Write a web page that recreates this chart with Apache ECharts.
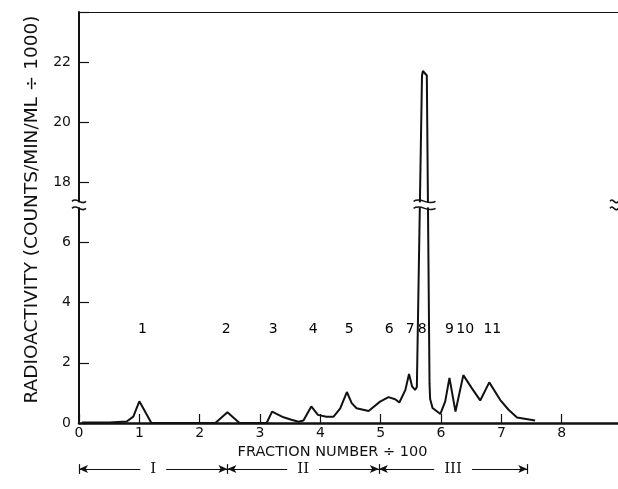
<!DOCTYPE html>
<html>
<head>
<meta charset="utf-8">
<script src="https://cdn.jsdelivr.net/npm/echarts@6/dist/echarts.min.js"></script>
<style>
html,body{margin:0;padding:0;background:#fff;}
#chart{width:618px;height:489px;}
</style>
</head>
<body>
<div id="chart"></div>
<script>
// ---- data (real units: counts/min/ml ÷ 1000 vs fraction number ÷ 100) ----
const fractionX = [0.05,0.5,0.79,0.9,1.0,1.2,1.6,2.0,2.26,2.46,2.66,3.0,3.11,3.2,3.39,3.52,3.64,3.72,3.85,3.96,4.1,4.22,4.33,4.44,4.52,4.6,4.8,4.99,5.13,5.24,5.31,5.41,5.47,5.52,5.57,5.6,5.685,5.7,5.73,5.765,5.81,5.82,5.86,5.99,6.07,6.14,6.24,6.37,6.51,6.65,6.8,6.98,7.12,7.26,7.56];
const activity  = [0.02,0.02,0.05,0.21,0.72,0.0,0.0,0.0,0.0,0.36,0.0,0.0,0.0,0.38,0.19,0.11,0.04,0.08,0.55,0.27,0.21,0.21,0.49,1.03,0.66,0.49,0.4,0.71,0.86,0.79,0.68,1.1,1.63,1.22,1.1,1.2,21.55,21.7,21.7,21.55,1.3,0.8,0.5,0.3,0.72,1.5,0.38,1.59,1.16,0.75,1.35,0.77,0.44,0.18,0.08];
const peakX     = [1.05,2.44,3.22,3.88,4.48,5.14,5.49,5.69,6.14,6.40,6.85];
const peakNames = ['1','2','3','4','5','6','7','8','9','10','11'];
const peakLabelY = 3.1;
const regionNames = ['I','II','III'];
const regionBounds = [0, 2.46, 4.97, 7.43];
const xTicks = [0,1,2,3,4,5,6,7,8];
const yTicksLow = [0,2,4,6];
const yTicksHigh = [18,20,22];

// ---- broken axis mapping ----
const BREAK_LOW = 7.1;    // top of the lower segment
const OFFSET = 10;        // values above the break are shifted down by this
function disp(v){ return v > 12 ? v - OFFSET : v; }
function undisp(d){ return d > BREAK_LOW ? d + OFFSET : d; }

const chart = echarts.init(document.getElementById('chart'), null, {renderer:'canvas'});
const FONT = 'DejaVu Sans';

const markData = [];
for (let i = 0; i < regionNames.length; i++) {
  markData.push([
    {coord:[regionBounds[i], 0], symbol:'arrow', name:regionNames[i]},
    {coord:[regionBounds[i+1], 0], symbol:'arrow'}
  ]);
}
regionBounds.forEach(b => {
  markData.push([
    {coord:[b, -0.7], symbol:'none', name:'', label:{show:false}},
    {coord:[b, 0.7], symbol:'none'}
  ]);
});

chart.setOption({
  animation:false,
  backgroundColor:'#fff',
  grid:[
    {left:79, right:-4, top:12, bottom:66, containLabel:false, outerBoundsMode:'none'},
    {left:79, right:-4, top:462, height:14, containLabel:false, outerBoundsMode:'none'}
  ],
  xAxis:[{
    type:'value', min:0, max:9, interval:1, gridIndex:0,
    name:'FRACTION NUMBER ÷ 100', nameLocation:'middle', nameGap:19,
    nameTextStyle:{fontFamily:FONT, fontSize:14.5, color:'#111', padding:[0,36,0,0]},
    axisLine:{show:true, onZero:false, lineStyle:{color:'#111', width:2.5}},
    axisTick:{show:true, inside:true, length:9, lineStyle:{color:'#111', width:1.2}},
    axisLabel:{fontFamily:FONT, fontSize:14, color:'#111', margin:3,
      formatter:v => xTicks.indexOf(v) >= 0 ? String(v) : ''},
    splitLine:{show:false}
  },{
    type:'value', min:0, max:9, position:'top', gridIndex:0,
    axisLine:{show:true, onZero:false, lineStyle:{color:'#111', width:1.2}},
    axisTick:{show:false}, axisLabel:{show:false}, splitLine:{show:false}
  },{
    type:'value', min:0, max:9, gridIndex:1, show:false
  }],
  yAxis:[{
    type:'value', min:0, max:13.66, interval:2, gridIndex:0,
    name:'RADIOACTIVITY (COUNTS/MIN/ML ÷ 1000)', nameLocation:'middle', nameGap:37,
    nameTextStyle:{fontFamily:FONT, fontSize:18.5, color:'#111', padding:[0,0,0,16]},
    axisLine:{show:true, onZero:false, lineStyle:{color:'#111', width:2}},
    axisTick:{show:true, inside:true, length:10, lineStyle:{color:'#111', width:1.2}},
    axisLabel:{fontFamily:FONT, fontSize:14, color:'#111', margin:8,
      formatter:v => {
        const r = Math.round(undisp(v));
        return (yTicksLow.indexOf(r) >= 0 || yTicksHigh.indexOf(r) >= 0) ? String(r) : '';
      }},
    splitLine:{show:false}
  },{
    type:'value', min:-1, max:1, gridIndex:1, show:false
  }],
  series:[{
    type:'line',
    xAxisIndex:0, yAxisIndex:0,
    data:fractionX.map((x,i) => [x, disp(activity[i])]),
    showSymbol:false, symbol:'none',
    lineStyle:{color:'#111', width:2},
    z:3
  },{
    type:'scatter',
    xAxisIndex:0, yAxisIndex:0,
    data:peakX.map((x,i) => ({value:[x, peakLabelY], name:peakNames[i]})),
    symbolSize:1,
    itemStyle:{opacity:0},
    label:{show:true, position:'inside', formatter:p => p.name,
      fontFamily:FONT, fontSize:14, color:'#000', opacity:1},
    z:4
  },{
    type:'line',
    xAxisIndex:2, yAxisIndex:1,
    data:regionBounds.map(b => [b, 0]),
    showSymbol:false, symbol:'none',
    lineStyle:{width:0, opacity:0},
    markLine:{
      silent:true, symbolSize:[6,9], animation:false,
      lineStyle:{color:'#111', width:1.2, type:'solid'},
      label:{show:true, position:'middle', formatter:'{b}', fontFamily:'DejaVu Serif', fontSize:15,
        color:'#111', backgroundColor:'#fff', padding:[1,10], distance:-9},
      emphasis:{disabled:true},
      data:markData
    }
  }]
});

// break marks (decorative "≈" on the y axis, the peak and the right edge)
function breakMark(px, py, halfW){
  const wave = (dy) => ({
    type:'bezierCurve',
    shape:{x1:px-halfW, y1:py+dy, x2:px+halfW, y2:py+dy,
           cpx1:px-halfW*0.3, cpy1:py+dy-5, cpx2:px+halfW*0.3, cpy2:py+dy+5},
    style:{stroke:'#111', lineWidth:1.5, fill:null}, z:10
  });
  return [
    {type:'rect', shape:{x:px-halfW+1, y:py-2.5, width:halfW*2-2, height:5}, style:{fill:'#fff'}, z:9},
    wave(-3.5), wave(3.5)
  ];
}
const yBreak = chart.convertToPixel({gridIndex:0}, [0, BREAK_LOW + 0.15]);
const peakBreakL = chart.convertToPixel({gridIndex:0}, [5.645, BREAK_LOW + 0.15]);
chart.setOption({graphic:[].concat(
  breakMark(yBreak[0], yBreak[1], 7),
  breakMark(peakBreakL[0] + 5, peakBreakL[1], 11),
  breakMark(614, yBreak[1], 4)
)});
</script>
</body>
</html>
